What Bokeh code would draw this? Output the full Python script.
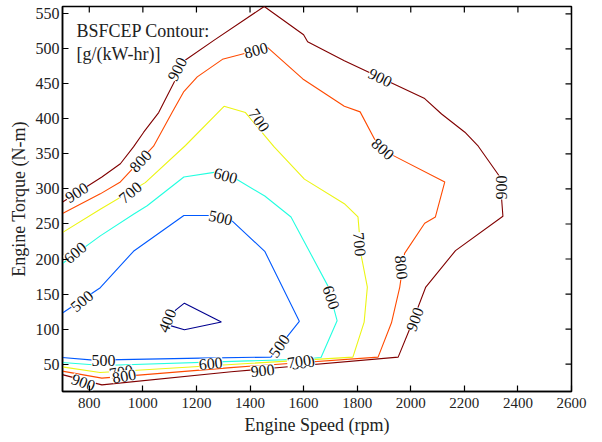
import math
from bokeh.plotting import figure
from bokeh.models import Range1d, FixedTicker, ColumnDataSource
from bokeh.core.properties import value
from bokeh.embed import file_html
from bokeh.resources import INLINE

# ---- data: contour lines of BSFCEP [g/(kW-hr)] (engine speed rpm, torque N-m)
levels = [400, 500, 600, 700, 800, 900]
level_colors = ["#00008F", "#0059FF", "#23FFE0", "#ECF513", "#FF4A00", "#800000"]

c400_x = [1093, 1122, 1155, 1293, 1155, 1093]
c400_y = [106, 127, 137, 110, 99, 106]

c500_x = [700, 841, 965, 1153, 1259, 1334, 1455, 1584, 1478, 1215, 815, 699]
c500_y = [123, 159, 211, 262, 262, 254, 211, 111, 60, 58.6, 55.7, 59.4]

c600_x = [701, 841, 965, 1016, 1153, 1272, 1353, 1455, 1553, 1690, 1725, 1665, 1590, 850, 699]
c600_y = [194, 233, 264, 276, 317, 324, 313, 290, 260, 162, 112, 59.4, 57, 48, 52.3]

c700_x = [701, 841, 1009, 1159, 1303, 1383, 1490, 1603, 1752, 1803, 1815, 1838, 1826, 1784, 840, 699]
c700_y = [238, 271, 309, 362, 418, 409, 360, 314, 279, 260, 205, 160, 110, 60, 38, 46]

c800_x = [700, 841, 916, 1040, 1109, 1153, 1203, 1297, 1465, 1597, 1752, 1811, 1865, 1928,
          2127, 2092, 2052, 1977, 1959, 1928, 1878, 1328, 847, 699]
c800_y = [265, 293, 310, 361, 409, 439, 460, 485, 502, 457, 418, 410, 371, 349,
          310, 260, 251, 208, 160, 109, 60, 45, 30, 40]

c900_x = [699, 847, 916, 965, 1003, 1059, 1159, 1265, 1453, 1600, 1615, 1752, 2052, 2115,
          2202, 2252, 2333, 2344, 2167, 2056, 1996, 1953, 1330, 847, 699]
c900_y = [281, 317, 336, 360, 381, 409, 484, 512, 560.4, 520, 510, 483, 429, 407,
          381, 361, 317, 261, 212, 160, 100, 60, 39, 20.4, 35]

# inline contour labels
lab_text = ["900", "900", "900", "900", "900", "900", "900",
            "700", "800", "800", "800", "800", "800",
            "800", "700", "700", "700", "700",
            "600", "600", "600", "600",
            "500", "500", "500", "500",
            "400"]
lab_x = [753, 1128, 1886, 2340, 2015, 778, 1447,
         919, 991, 1422, 1896, 1965, 1597,
         930, 953, 1434, 1809, 1583,
         747, 1309, 1703, 1253,
         772, 1290, 1509, 853,
         1091]
lab_y = [295, 471, 459, 302, 114, 24, 41,
         39, 340, 498, 357, 188, 52,
         33, 295, 398, 221, 54,
         209, 319, 145, 51,
         140, 259, 76, 55,
         112]
lab_angle_deg = [32, 63, -26, 90, 69, -20, 5,
                 10, 47, 15, -42, -84, 8,
                 10, 40, -55, -85, 8,
                 40, -15, -72, 5,
                 40, -12, 55, 0,
                 68]

x_ticks = [800, 1000, 1200, 1400, 1600, 1800, 2000, 2200, 2400, 2600]
y_ticks = [50, 100, 150, 200, 250, 300, 350, 400, 450, 500, 550]

X_MIN, X_MAX = 700, 2600
Y_MIN, Y_MAX = 10.9, 560.4
FONT = "Liberation Serif"

W, H = 602, 442
B_L, B_R, B_T, B_B = 62, 31, 6, 51

p = figure(width=W, height=H,
           x_range=Range1d(X_MIN, X_MAX), y_range=Range1d(Y_MIN, Y_MAX),
           output_backend="svg", toolbar_location=None,
           min_border_left=B_L, min_border_right=B_R,
           min_border_top=B_T, min_border_bottom=B_B)
p.xgrid.visible = False
p.ygrid.visible = False
p.outline_line_color = "black"
p.outline_line_width = 1.5
p.background_fill_color = "white"
p.border_fill_color = "white"

# inward tick marks on the top and right edges of the box (6 px long)
frame_w = W - B_L - B_R
frame_h = H - B_T - B_B
dx = 6 * (X_MAX - X_MIN) / frame_w
dy = 6 * (Y_MAX - Y_MIN) / frame_h
p.segment(x0=x_ticks, y0=[Y_MAX] * len(x_ticks), x1=x_ticks, y1=[Y_MAX - dy] * len(x_ticks),
          line_color="black", line_width=1.2)
p.segment(x0=[X_MAX] * len(y_ticks), y0=y_ticks, x1=[X_MAX - dx] * len(y_ticks), y1=y_ticks,
          line_color="black", line_width=1.2)

xs = [c400_x, c500_x, c600_x, c700_x, c800_x, c900_x]
ys = [c400_y, c500_y, c600_y, c700_y, c800_y, c900_y]
for cx, cy, col in zip(xs, ys, level_colors):
    p.line(cx, cy, line_color=col, line_width=1.1)

src = ColumnDataSource(dict(x=lab_x, y=lab_y, text=lab_text,
                            angle=[math.radians(a) for a in lab_angle_deg]))
p.text(x="x", y="y", text="text", angle="angle", source=src,
       text_font=value(FONT), text_font_size="16px", text_color="#111111",
       text_align="center", text_baseline="middle",
       background_fill_color="white", padding=0)

p.text(x=[752, 752], y=[525, 493], text=["BSFCEP Contour:", "[g/(kW-hr)]"],
       text_font=value(FONT), text_font_size="18px", text_color="#222222",
       text_align="left", text_baseline="middle")

def style_axis(ax, ticks, size):
    ax.ticker = FixedTicker(ticks=ticks)
    ax.major_tick_in = 6
    ax.major_tick_out = 0
    ax.major_tick_line_width = 1.2
    ax.minor_tick_line_color = None
    ax.axis_line_color = "black"
    ax.axis_line_width = 1.5
    ax.major_tick_line_color = "black"
    ax.major_label_text_font = FONT
    ax.axis_label_text_font = FONT
    ax.axis_label_text_font_style = "normal"
    ax.axis_label_text_color = "#222222"
    ax.major_label_text_color = "#222222"
    ax.major_label_text_font_size = size
    ax.axis_label_text_font_size = "18px"

style_axis(p.xaxis[0], x_ticks, "15px")
style_axis(p.yaxis[0], y_ticks, "16px")
p.xaxis[0].axis_label = "Engine Speed (rpm)"
p.yaxis[0].axis_label = "Engine Torque (N-m)"
p.xaxis[0].major_label_standoff = 6
p.yaxis[0].major_label_standoff = 3
p.xaxis[0].axis_label_standoff = 4
p.yaxis[0].axis_label_standoff = 4

open("out.html", "w").write(file_html(p, INLINE))
